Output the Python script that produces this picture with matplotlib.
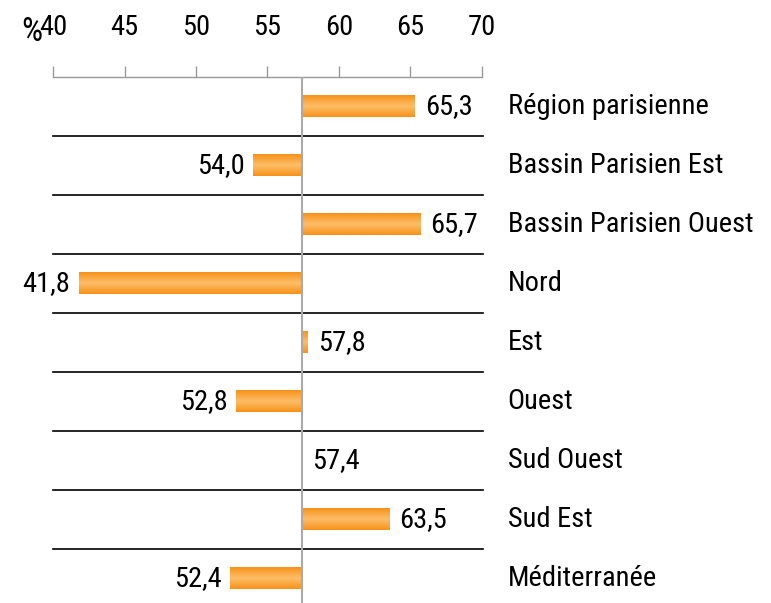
import numpy as np
import matplotlib
matplotlib.use("Agg")
import matplotlib.pyplot as plt
from matplotlib.colors import LinearSegmentedColormap

# data
regions = ["Région parisienne", "Bassin Parisien Est", "Bassin Parisien Ouest", "Nord",
           "Est", "Ouest", "Sud Ouest", "Sud Est", "Méditerranée"]
values = [65.3, 54.0, 65.7, 41.8, 57.8, 52.8, 57.4, 63.5, 52.4]
baseline = 57.4
ticks = [40, 45, 50, 55, 60, 65, 70]

plt.rcParams["font.family"] = ["Roboto Condensed", "DejaVu Sans"]
fs = 20.5

W, H = 771, 603
fig = plt.figure(figsize=(W / 100, H / 100), dpi=100)
ax = fig.add_axes([53 / W, -5 / H, 429 / W, 531 / H])

n = len(regions)
bar_h = 0.37
cmap = LinearSegmentedColormap.from_list("og", ["#F7921A", "#FDBE67", "#F7921A"])
grad = np.linspace(0, 1, 64).reshape(-1, 1)

for i, v in enumerate(values):
    lo, hi = min(v, baseline), max(v, baseline)
    if hi - lo > 0:
        ax.imshow(grad, cmap=cmap, extent=[lo, hi, i + bar_h / 2, i - bar_h / 2],
                  aspect="auto", interpolation="bicubic", zorder=2)
    lab = f"{v:.1f}".replace(".", ",")
    if v >= baseline:
        ax.text(hi + 0.7, i, lab, ha="left", va="center", fontsize=fs)
    else:
        ax.text(lo - 0.6, i, lab, ha="right", va="center", fontsize=fs)
    ax.text(71.8, i, regions[i], ha="left", va="center", fontsize=fs, clip_on=False)

for i in range(n - 1):
    ax.plot([40, 70.1], [i + 0.5, i + 0.5], color="black", lw=1.2, zorder=1, clip_on=False)

ax.axvline(baseline, color="#AAAAAA", lw=1.5, zorder=3)

ax.set_xlim(40, 70)
ax.set_ylim(n - 0.5, -0.5)
ax.set_yticks([])
ax.xaxis.tick_top()
ax.set_xticks(ticks)
ax.set_xticklabels([str(t) for t in ticks], fontsize=fs)
ax.tick_params(axis="x", direction="out", length=8, width=1, color="#999999", pad=18)
for s in ["right", "bottom", "left"]:
    ax.spines[s].set_visible(False)
ax.spines["top"].set_color("#999999")
ax.spines["top"].set_linewidth(1)
ax.annotate("%", xy=(40, 1), xycoords=("data", "axes fraction"), xytext=(-8, 26),
            textcoords="offset points", ha="right", va="baseline", fontsize=24)

fig.savefig("out.png", dpi=100)
